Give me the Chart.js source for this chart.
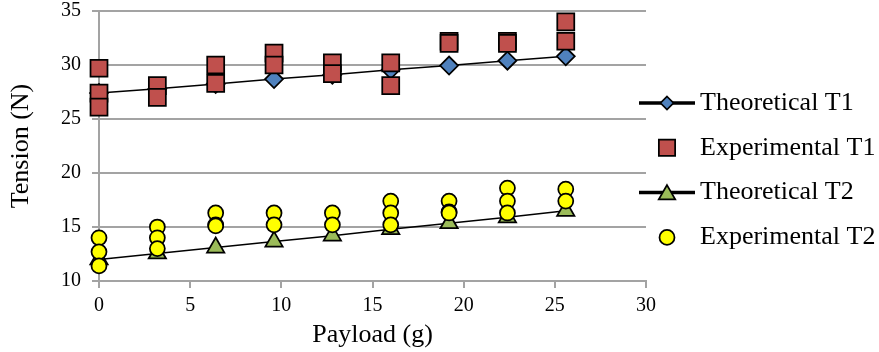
<!DOCTYPE html>
<html><head><meta charset="utf-8">
<script src="https://cdn.jsdelivr.net/npm/chart.js@4/dist/chart.umd.min.js"></script>
<style>html,body{margin:0;padding:0;background:#fff;}#wrap{width:879px;height:352px;}</style>
</head><body><div id="wrap"><canvas id="c" width="879" height="352"></canvas></div>
<script>
// ---- data ----
const payload = [0, 3.2, 6.4, 9.6, 12.8, 16, 19.2, 22.4, 25.6];
const theoreticalT1 = [27.4, 27.8, 28.25, 28.7, 29.1, 29.55, 29.95, 30.4, 30.8];
const experimentalT1 = [[29.7, 27.4, 26.1], [28.1, 27.0], [30.0, 28.3], [31.1, 30.0], [30.2, 29.2], [30.2, 28.1], [32.2, 32.0], [32.2, 32.0], [34.0, 32.2]];
const theoreticalT2 = [12.0, 12.55, 13.1, 13.65, 14.2, 14.8, 15.35, 15.9, 16.5];
const experimentalT2 = [[14.0, 12.7, 11.4], [15.0, 14.0, 13.0], [16.3, 15.2, 15.1], [16.3, 15.2], [16.3, 15.2], [17.4, 16.3, 15.2], [17.4, 16.4, 16.3], [18.6, 17.4, 16.3], [18.5, 17.4]];
const seriesNames = ['Theoretical T1', 'Experimental T1', 'Theoretical T2', 'Experimental T2'];
const xTickValues = [0, 5, 10, 15, 20, 25, 30];
const yTickValues = [10, 15, 20, 25, 30, 35];
const xTitle = 'Payload (g)';
const yTitle = 'Tension (N)';

const FONT = '"Liberation Serif", "Times New Roman", serif';
const GRID = '#a3a3a3';

const line = (ys) => payload.map((x, i) => ({ x, y: ys[i] }));
const multi = (groups) => groups.flatMap((g, i) => g.map(y => ({ x: payload[i], y })));

const datasets = [
  { label: seriesNames[0], data: line(theoreticalT1), showLine: true, borderColor: '#000', borderWidth: 1.5, clip: false,
    pointStyle: 'rectRot', pointRadius: 9, pointBackgroundColor: '#4F81BD', pointBorderColor: '#000', pointBorderWidth: 1.75, order: 4,
    legendRadius: 6.5, legendLine: true },
  { label: seriesNames[1], data: multi(experimentalT1), showLine: false, clip: false,
    pointStyle: 'rect', pointRadius: 12, pointBackgroundColor: '#C0504D', pointBorderColor: '#000', pointBorderWidth: 1.75, order: 3,
    legendRadius: 11.5, legendLine: false },
  { label: seriesNames[2], data: line(theoreticalT2), showLine: true, borderColor: '#000', borderWidth: 1.5, clip: false,
    pointStyle: 'triangle', pointRadius: 10, pointBackgroundColor: '#9BBB59', pointBorderColor: '#000', pointBorderWidth: 1.75, order: 2,
    legendRadius: 9.5, legendLine: true },
  { label: seriesNames[3], data: multi(experimentalT2), showLine: false, clip: false,
    pointStyle: 'circle', pointRadius: 7.5, pointBackgroundColor: '#FFFF00', pointBorderColor: '#000', pointBorderWidth: 1.75, order: 1,
    legendRadius: 7.5, legendLine: false }
];

function drawMarker(ctx, style, r, x, y) {
  ctx.beginPath();
  if (style === 'rectRot') {
    ctx.moveTo(x, y - r); ctx.lineTo(x + r, y); ctx.lineTo(x, y + r); ctx.lineTo(x - r, y); ctx.closePath();
  } else if (style === 'rect') {
    const s = Math.SQRT1_2 * r; ctx.rect(x - s, y - s, 2 * s, 2 * s);
  } else if (style === 'triangle') {
    ctx.moveTo(x, y - r); ctx.lineTo(x + r * 0.866, y + r / 2); ctx.lineTo(x - r * 0.866, y + r / 2); ctx.closePath();
  } else {
    ctx.arc(x, y, r, 0, Math.PI * 2);
  }
  ctx.fill(); ctx.stroke();
}

const sideLegend = {
  id: 'sideLegend',
  afterDraw(chart) {
    const ctx = chart.ctx;
    ctx.save();
    chart.data.datasets.forEach((ds, i) => {
      const y = 103 + i * 44.8;
      const cx = 667;
      if (ds.legendLine) {
        ctx.strokeStyle = '#000'; ctx.lineWidth = 3.5;
        ctx.beginPath(); ctx.moveTo(639, y); ctx.lineTo(695, y); ctx.stroke();
      }
      ctx.fillStyle = ds.pointBackgroundColor; ctx.strokeStyle = '#000'; ctx.lineWidth = 1.75;
      drawMarker(ctx, ds.pointStyle, ds.legendRadius, cx, ds.pointStyle === 'triangle' ? y + 2 : y);
      ctx.fillStyle = '#000';
      ctx.font = '26px ' + FONT;
      ctx.textBaseline = 'middle'; ctx.textAlign = 'left';
      ctx.fillText(ds.label, 700, y);
    });
    ctx.restore();
  }
};

new Chart(document.getElementById('c'), {
  type: 'scatter',
  data: { datasets },
  plugins: [sideLegend],
  options: {
    responsive: false, animation: false, devicePixelRatio: 1,
    layout: { autoPadding: false, padding: { left: 0, top: 11, right: 233, bottom: 0 } },
    plugins: { legend: { display: false }, tooltip: { enabled: false } },
    scales: {
      x: {
        type: 'linear', min: 0, max: 30,
        afterBuildTicks: s => { s.ticks = xTickValues.map(v => ({ value: v })); },
        afterFit: s => { s.height = 71; s.paddingLeft = 0; s.paddingRight = 0; },
        ticks: { color: '#000', font: { family: FONT, size: 20, lineHeight: 1.2 }, padding: 6 },
        grid: { drawOnChartArea: false, drawTicks: true, tickLength: 7, color: GRID, lineWidth: 2 },
        border: { color: GRID, width: 2 },
        title: { display: true, text: xTitle, color: '#000', font: { family: FONT, size: 26, lineHeight: 1.2 }, padding: { top: 0, bottom: 1 } }
      },
      y: {
        type: 'linear', min: 10, max: 35,
        afterBuildTicks: s => { s.ticks = yTickValues.map(v => ({ value: v })); },
        afterFit: s => { s.width = 99; s.paddingTop = 0; s.paddingBottom = 0; },
        ticks: { color: '#000', font: { family: FONT, size: 20, lineHeight: 1.0 }, padding: 11 },
        grid: { drawTicks: true, tickLength: 7, color: GRID, lineWidth: 2 },
        border: { color: GRID, width: 2 },
        title: { display: true, text: yTitle, color: '#000', font: { family: FONT, size: 26, lineHeight: 1.2 }, padding: { top: 6, bottom: 0 } }
      }
    }
  }
});
</script></body></html>
